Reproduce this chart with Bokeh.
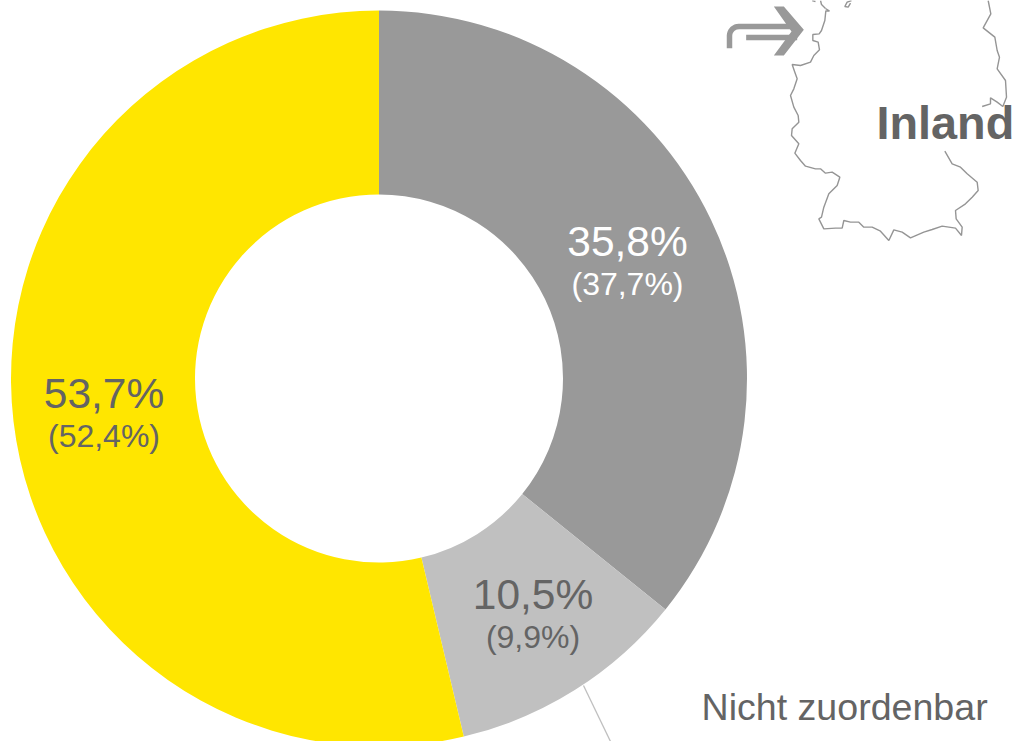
from bokeh.plotting import figure
from bokeh.models import Range1d
from bokeh.core.properties import value
from bokeh.embed import file_html
from bokeh.resources import INLINE
import math

categories = ["Ausland", "Nicht zuordenbar", "Inland"]
shares = [35.8, 10.5, 53.7]
previous = [37.7, 9.9, 52.4]
colors = ["#999999", "#C0C0C0", "#FFE600"]
main_colors = ["#FFFFFF", "#646464", "#646464"]
sub_colors = ["#FFFFFF", "#646464", "#646464"]
share_labels = ["35,8%", "10,5%", "53,7%"]
prev_labels = ["(37,7%)", "(9,9%)", "(52,4%)"]

W, H = 1015, 741
CX, CY, RO, RI = 378.5, 378, 368, 184
FONT = value("Liberation Sans")
TEXT = "#646464"

def Y(py):
    return H - py

p = figure(width=W, height=H, output_backend="svg", toolbar_location=None,
           x_range=Range1d(0, W), y_range=Range1d(0, H),
           min_border=0, outline_line_color=None, background_fill_color="white")
p.axis.visible = False
p.grid.visible = False

# donut, clockwise from 12 o'clock
acc = 0
for v, c in zip(shares, colors):
    start = math.pi / 2 - acc / 100 * 2 * math.pi
    acc += v
    end = math.pi / 2 - acc / 100 * 2 * math.pi
    p.annular_wedge(x=[CX], y=[Y(CY)], inner_radius=RI, outer_radius=RO,
                    start_angle=end, end_angle=start, fill_color=c, line_color=None)

# value labels
main_pos = [(627, 241), (532.5, 594), (103.5, 393)]
sub_pos = [(627, 283.5), (532.5, 636.5), (103.5, 435.5)]
for lab, col, (x, y) in zip(share_labels, main_colors, main_pos):
    p.text(x=[x], y=[Y(y)], text=[lab], text_color=col, text_font=FONT, text_font_size="42.5px",
           text_align="center", text_baseline="middle")
for lab, col, (x, y) in zip(prev_labels, sub_colors, sub_pos):
    p.text(x=[x], y=[Y(y)], text=[lab], text_color=col, text_font=FONT, text_font_size="32px",
           text_align="center", text_baseline="middle")

# leader + caption
p.line(x=[583, 610], y=[Y(685), Y(741)], line_color="#BFBFBF", line_width=1.3)
p.text(x=[701], y=[Y(706)], text=[categories[1]],
       text_color=TEXT, text_font=FONT, text_font_size="37.6px", text_align="left", text_baseline="middle")

def tx(zx): return 715 + zx / 3
def ty(zy): return Y(zy / 3)

west = [(330,24),(342,32),(331,31),(328,60),(318,90),(311,100),(292,102),(292,120),(308,125),(312,148),
        (295,165),(285,185),(255,195),(230,192),(238,215),(245,235),(235,265),(225,285),(235,320),
        (248,345),(250,365),(230,385),(228,405),(250,430),(238,458),(255,480),(270,497),(300,505),
        (315,505),(330,518),(350,515),(373,530),(365,555),(340,580),(325,620),(318,650),(310,655),
        (325,685),(360,683),(380,683),(385,660),(405,665),(430,665),(445,680),(470,680),(495,692),
        (520,720),(535,688),(560,695),(585,712),(625,695),(650,687),(680,677),(720,683),(738,705),
        (740,680),(722,655),(720,630),(750,610),(770,590),(788,570),(785,545),(755,520),(735,500),
        (710,490),(688,452)]
east = [(818,0),(826,40),(803,82),(838,110),(845,150),(852,170),(845,205),(870,240),(873,290),
        (862,318),(845,305),(825,292),(825,310),(800,318)]
isle1 = [(408,0),(395,5),(388,18),(398,20),(405,8)]
isle2 = [(290,0),(300,3)]
isle3 = [(315,0),(318,12),(330,24)]
for seg in (west, east, isle1, isle2, isle3):
    p.line(x=[tx(a) for a, b in seg], y=[ty(b) for a, b in seg], line_color="#959595", line_width=1.4)

# arrow icon
ARW = "#999999"
curve_t = [i / 8 for i in range(9)]
cx = [tx(42)] + [tx(42 + 28 * (1 - math.cos(t * math.pi / 2))) for t in curve_t] + [tx(245)]
cy = [ty(143)] + [ty(106 - 28 * math.sin(t * math.pi / 2)) for t in curve_t] + [ty(78)]
p.line(x=cx, y=cy, line_color=ARW, line_width=5.5)
p.line(x=[tx(92), tx(245)], y=[ty(111), ty(111)], line_color=ARW, line_width=5.5)
p.patch(x=[tx(175), tx(205), tx(265), tx(205), tx(175), tx(228)],
        y=[ty(18), ty(18), ty(88), ty(165), ty(165), ty(93)], fill_color=ARW, line_color=None)

p.text(x=[876], y=[Y(122)], text=[categories[2]], text_color=TEXT, text_font=FONT, text_font_size="46.8px",
       text_font_style="bold", text_align="left", text_baseline="middle")

open("out.html", "w").write(file_html(p, INLINE))
